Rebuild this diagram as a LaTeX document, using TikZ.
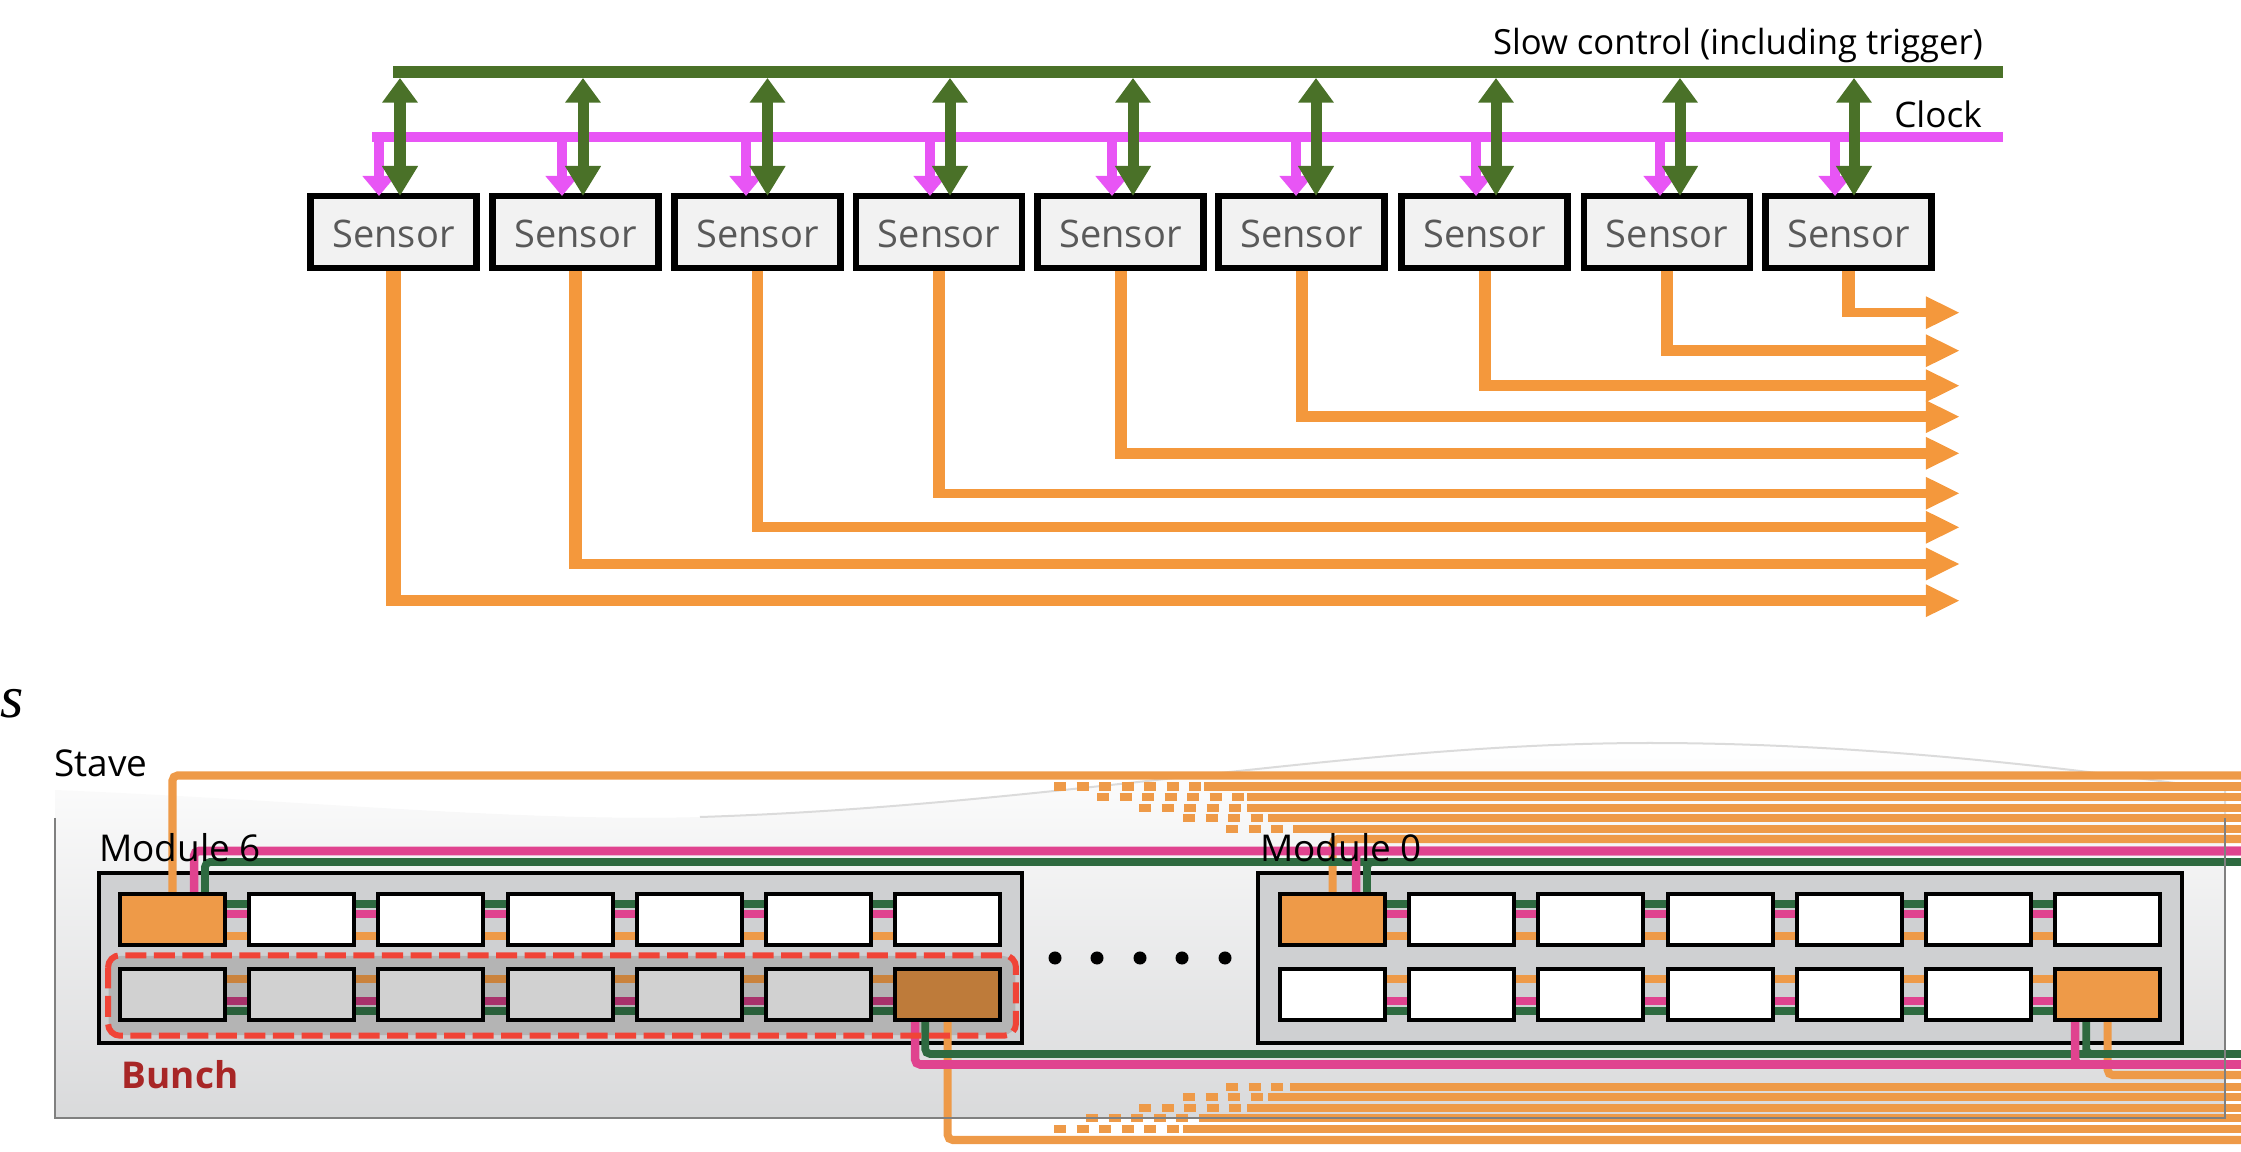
\documentclass[tikz,border=0pt]{standalone}
\usepackage{fontspec}
\setmainfont{Open Sans}
\newfontfamily\slabfont{Liberation Serif}
\usetikzlibrary{arrows.meta,calc}
\definecolor{slowgreen}{HTML}{4A7128}
\definecolor{clockpink}{HTML}{E855F5}
\definecolor{dataorange}{HTML}{F4983C}
\definecolor{busorange}{HTML}{EE9A48}
\definecolor{buspink}{HTML}{E0438F}
\definecolor{busgreen}{HTML}{2E6A40}
\definecolor{modgray}{HTML}{CFD0D2}
\definecolor{bunchgray}{HTML}{B4B4B4}
\definecolor{bunchred}{HTML}{F04437}

\begin{document}
\begin{tikzpicture}[x=0.01cm,y=-0.01cm,
  sensor/.style={draw=black, line width=0.065cm, fill=black!5, inner sep=0pt, minimum width=1.655cm, minimum height=0.715cm, text height=0.32cm, text=black!65, font=\fontsize{10.8}{13}\selectfont},
  lab/.style={inner sep=0pt, font=\fontsize{10.5}{13}\selectfont},
  slowarr/.style={slowgreen, line width=0.11cm, {Triangle[length=0.245cm,width=0.34cm]}-{Triangle[length=0.30cm,width=0.34cm]}},
  clockarr/.style={clockpink, line width=0.105cm, -{Triangle[length=0.20cm,width=0.32cm]}},
  dataarr/.style={dataorange, -{Triangle[length=0.34cm,width=0.30cm]}},
  module/.style={draw=black, line width=0.04cm, fill=modgray, inner sep=0pt, minimum width=9.23cm, minimum height=1.69cm},
  chip/.style={draw=black, line width=0.04cm, fill=white, inner sep=0pt, minimum width=1.05cm, minimum height=0.51cm},
  bus/.style={busorange, line width=0.08cm},
  busdash/.style={bus, dash pattern=on 0.12cm off 0.105cm},
  pinkbus/.style={buspink, line width=0.085cm, rounded corners=0.05cm},
  greenbus/.style={busgreen, line width=0.078cm, rounded corners=0.05cm},
  orangebus/.style={bus, rounded corners=0.05cm},
  link/.style={line width=0.07cm}]
\useasboundingbox (0,0) rectangle (2241,1152);
\coordinate (slowL) at (393,72);
\coordinate (slowR) at (2003,72);
\coordinate (clockL) at (372,137);
\coordinate (clockR) at (2003,137);
\coordinate (dataend) at (1960,0);
\coordinate (busend) at (2241,0);

% upper part
\draw[slowgreen, line width=0.115cm] (slowL) -- (slowR);
\draw[clockpink, line width=0.105cm] (clockL) -- (clockR);
\node[lab, font=\fontsize{9.85}{12}\selectfont] (slowlab) at (1738,46) {Slow control (including trigger)};
\node[lab, font=\fontsize{10}{12}\selectfont] (clocklab) at (1938,114) {Clock};
\foreach \i/\sx/\mx/\gx/\dy/\hw/\vw in {1/393.5/379/400/600.7/0.105/0.15, 2/575.5/562/583/564/0.10/0.13, 3/757.5/746/767.5/527.3/0.10/0.11, 4/939/930/950/493.3/0.095/0.125, 5/1120.5/1112/1133/453.3/0.11/0.12, 6/1301.5/1296/1316/416.7/0.107/0.12, 7/1484.5/1476/1496/385.7/0.11/0.12, 8/1667/1660/1680/350.7/0.11/0.12, 9/1848.5/1835/1854/312.7/0.095/0.13} {
  \node[sensor] (s\i) at (\sx,232) {Sensor};
  \draw[clockarr] (\mx,137) -- (\mx,196);
  \draw[slowarr] (\gx,78) -- (\gx,196);
  \draw[dataarr, line width=\hw cm] (s\i.south) |- (dataend |- 0,\dy);
  \draw[dataorange, line width=\vw cm] (s\i.south) -- ([yshift=-\hw cm/2]s\i.south |- 0,\dy);
}

\node[inner sep=0pt, font=\fontsize{17}{20}\selectfont\slabfont\itshape] (slab) at (12,704) {s};

% stave
\path[shade, top color=white, bottom color=black!3!modgray!70] (55,790) .. controls (300,800) and (520,822) .. (700,817) .. controls (1050,806) and (1350,743) .. (1650,743) .. controls (1850,743) and (2050,765) .. (2225,790) -- (2225,1118) -- (55,1118) -- cycle;
\draw[black!14, line width=0.02cm] (700,817) .. controls (1050,806) and (1350,743) .. (1650,743) .. controls (1850,743) and (2050,765) .. (2225,790) -- (2225,818);
\node[lab] (stavelab) at (101,763) {Stave};

% modules
\node[module] (mod6) at (560.5,958) {};
\node[module] (mod0) at (1720,958) {};
\node[draw=none, fill=bunchgray, rounded corners=0.12cm, inner sep=0pt, minimum width=9.06cm, minimum height=0.79cm] (bunch) at (562,995.5) {};
\foreach \i in {1,...,7} {
  \ifnum\i=1
    \node[chip, fill=busorange] (sixt\i) at ({172.5+129.2*(\i-1)},919.5) {};
    \node[chip, fill=busorange] (zerot\i) at ({1332.5+129.2*(\i-1)},919.5) {};
  \else
    \node[chip] (sixt\i) at ({172.5+129.2*(\i-1)},919.5) {};
    \node[chip] (zerot\i) at ({1332.5+129.2*(\i-1)},919.5) {};
  \fi
  \ifnum\i=7
    \node[chip, fill=busorange!80!black] (sixb\i) at ({172.5+129.2*(\i-1)},994.5) {};
    \node[chip, fill=busorange] (zerob\i) at ({1332.5+129.2*(\i-1)},994.5) {};
  \else
    \node[chip, fill=black!18] (sixb\i) at ({172.5+129.2*(\i-1)},994.5) {};
    \node[chip] (zerob\i) at ({1332.5+129.2*(\i-1)},994.5) {};
  \fi
}
\foreach \i [count=\j from 2] in {1,...,6} {
  \foreach \m in {six,zero} {
    \draw[link, busgreen] (\m t\i.east |- 0,904) -- (\m t\j.west |- 0,904);
    \draw[link, buspink] (\m t\i.east |- 0,914) -- (\m t\j.west |- 0,914);
    \draw[link, busorange] (\m t\i.east |- 0,936) -- (\m t\j.west |- 0,936);
  }
  \draw[link, busorange!85!black] (sixb\i.east |- 0,979) -- (sixb\j.west |- 0,979);
  \draw[link, buspink!75!black] (sixb\i.east |- 0,1001) -- (sixb\j.west |- 0,1001);
  \draw[link, busgreen!90!black] (sixb\i.east |- 0,1011) -- (sixb\j.west |- 0,1011);
  \draw[link, busorange] (zerob\i.east |- 0,979) -- (zerob\j.west |- 0,979);
  \draw[link, buspink] (zerob\i.east |- 0,1001) -- (zerob\j.west |- 0,1001);
  \draw[link, busgreen] (zerob\i.east |- 0,1011) -- (zerob\j.west |- 0,1011);
}
\foreach \i/\dotx in {1/1055, 2/1097, 3/1140, 4/1182, 5/1225}
  \node[circle, fill=black, inner sep=0pt, minimum size=0.13cm] (dot\i) at (\dotx,958) {};

% upper buses
\foreach \dy/\ds/\de in {786.5/1054/1204, 797/1097/1247, 808/1139/1247, 818/1183/1268, 829/1226/1293} {
  \draw[busdash] (\ds,\dy) -- (\de,\dy);
  \draw[bus] (\de,\dy) -- (busend |- 0,\dy);
}
\draw[orangebus] (sixt1.north) |- (busend |- 0,775.5);
\draw[orangebus] (zerot1.north) |- (busend |- 0,839);
\draw[pinkbus] ([xshift=0.215cm]sixt1.north) |- (busend |- 0,851);
\draw[greenbus] ([xshift=0.325cm]sixt1.north) |- (busend |- 0,862);
\draw[pinkbus] ([xshift=0.235cm]zerot1.north) |- (busend |- 0,851);
\draw[greenbus] ([xshift=0.345cm]zerot1.north) |- (busend |- 0,862);

% lower buses
\foreach \dy/\ds/\de in {1087/1226/1290, 1097/1183/1268, 1108/1139/1247, 1118/1086/1200, 1129/1054/1183} {
  \draw[busdash] (\ds,\dy) -- (\de,\dy);
  \draw[bus] (\de,\dy) -- (busend |- 0,\dy);
}
\draw[orangebus] (sixb7.south) |- (busend |- 0,1140);
\draw[orangebus] (zerob7.south) |- (busend |- 0,1075);
\draw[greenbus] ([xshift=-0.225cm]sixb7.south) |- (busend |- 0,1054);
\draw[pinkbus] ([xshift=-0.325cm]sixb7.south) |- (busend |- 0,1064.5);
\draw[greenbus] ([xshift=-0.215cm]zerob7.south) |- (busend |- 0,1054);
\draw[pinkbus] ([xshift=-0.325cm]zerob7.south) |- (busend |- 0,1064.5);

% outlines and labels on top
\draw[black!50, line width=0.025cm] (55,818) -- (55,1118) -- (2225,1118) -- (2225,818);
\draw[bunchred, line width=0.06cm, rounded corners=0.12cm, dash pattern=on 0.21cm off 0.075cm] (bunch.north west) rectangle (bunch.south east);
\node[lab] (mod6lab) at (180,848) {Module 6};
\node[lab] (mod0lab) at (1341,848) {Module 0};
\node[lab, text=red!60!black!85, font=\fontsize{10.5}{13}\selectfont\bfseries] (bunchlab) at (180,1075) {Bunch};
\end{tikzpicture}
\end{document}
